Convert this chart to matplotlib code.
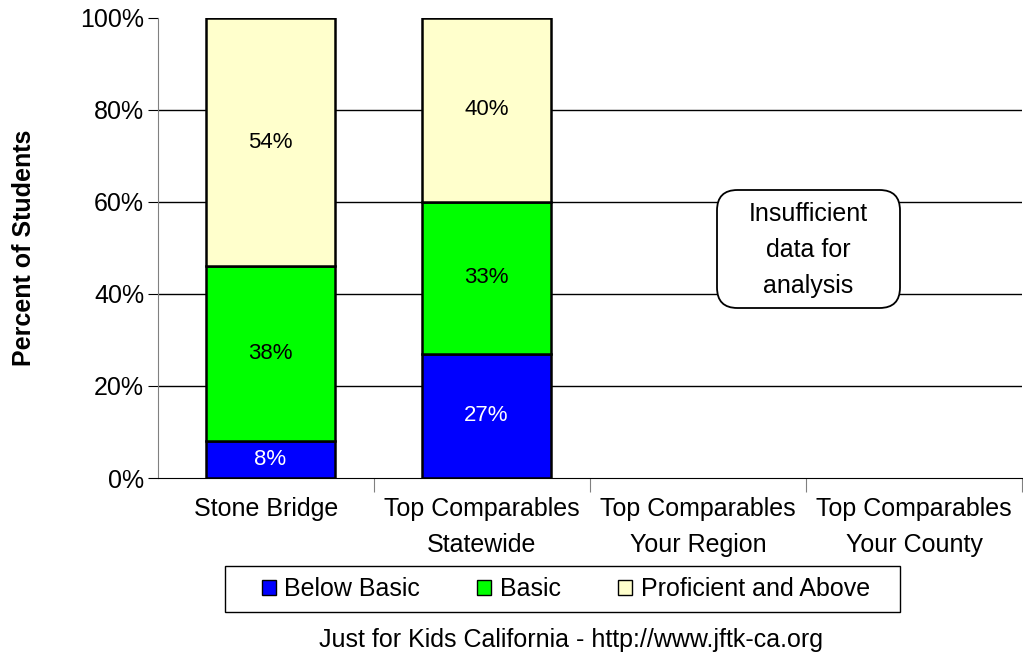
import matplotlib.pyplot as plt
from matplotlib.patches import FancyBboxPatch, Rectangle
import matplotlib.font_manager as fm

# fonts: condensed Arial look if available
names = {f.name for f in fm.fontManager.ttflist}
narrow = 'Liberation Sans Narrow' if 'Liberation Sans Narrow' in names else 'Liberation Sans'
plt.rcParams['font.family'] = ['Liberation Sans', 'DejaVu Sans']

categories = ['Stone Bridge', 'Top Comparables\nStatewide',
              'Top Comparables\nYour Region', 'Top Comparables\nYour County']
below_basic = [8, 27]
basic = [38, 33]
proficient = [54, 40]
series_names = ['Below Basic', 'Basic', 'Proficient and Above']
colors = ['#0000FF', '#00FF00', '#FFFFCC']
label_colors = ['white', 'black', 'black']

W, H = 1023, 655
fig = plt.figure(figsize=(W / 100, H / 100), dpi=100)
ax = fig.add_axes([158 / W, 1 - 478 / H, 864 / W, 460 / H])

x = list(range(len(below_basic)))
bottom = [0] * len(x)
handles = []
for vals, name, col, lc in zip([below_basic, basic, proficient], series_names, colors, label_colors):
    bars = ax.bar([i + 0.02 for i in x], vals, width=0.6, bottom=bottom, color=col,
                  edgecolor='black', linewidth=1.8, label=name, zorder=3)
    handles.append(bars)
    for i, v in enumerate(vals):
        ax.text(x[i] + 0.02, bottom[i] + v / 2, f'{v}%', ha='center', va='center',
                fontsize=16, color=lc, family=narrow, zorder=4)
    bottom = [b + v for b, v in zip(bottom, vals)]

ax.set_xlim(-0.5, 3.5)
ax.set_ylim(0, 100)
ticks = [0, 20, 40, 60, 80, 100]
ax.set_yticks(ticks)
ax.set_yticklabels([f'{t}%' for t in ticks], fontsize=18)
for y in [20, 40, 60, 80]:
    ax.axhline(y, color='black', linewidth=1, zorder=1)

# category labels between boundary ticks
ax.set_xticks([0.5, 1.5, 2.5, 3.5])
ax.set_xticklabels([])
ax.set_xticks([0, 1, 2, 3], minor=True)
ax.set_xticklabels(categories, minor=True, fontsize=18, family=narrow, linespacing=1.6)
ax.tick_params(axis='x', which='minor', length=0, pad=14)
ax.tick_params(axis='x', which='major', length=10, color='#808080')
ax.tick_params(axis='y', length=7, color='black', pad=3)

for s in ['top', 'right']:
    ax.spines[s].set_visible(False)
ax.spines['left'].set_color('#808080')
ax.spines['bottom'].set_color('black')
ax.spines['bottom'].set_zorder(5)

ax.set_ylabel('Percent of Students', fontsize=18, fontweight='bold', labelpad=32)

# insufficient data note
fig.patches.append(FancyBboxPatch((717 / W, 1 - 308 / H), 183 / W, 118 / H,
                                  boxstyle='round,pad=0,rounding_size=0.02',
                                  transform=fig.transFigure, facecolor='white',
                                  edgecolor='black', linewidth=1.3, zorder=6,
                                  mutation_aspect=W / H))
fig.text(808 / W, 1 - 250 / H, 'Insufficient\ndata for\nanalysis', ha='center',
         va='center', fontsize=18, linespacing=1.65, zorder=7)

# legend frame drawn separately, legend content inside
fig.patches.append(Rectangle((225 / W, 1 - 612 / H), 675 / W, 46 / H,
                             transform=fig.transFigure, facecolor='white',
                             edgecolor='black', linewidth=1.0))
leg = fig.legend(handles=handles, loc='center', bbox_to_anchor=(566 / W, 1 - 589 / H),
                 ncol=3, frameon=False, fontsize=18,
                 handlelength=0.56, handleheight=0.56, handletextpad=0.36,
                 columnspacing=2.28, borderpad=0.2)
for h in leg.legend_handles:
    h.set_linewidth(1.0)

fig.text(571 / W, 1 - 640 / H, 'Just for Kids California - http://www.jftk-ca.org',
         ha='center', va='center', fontsize=18, family=narrow)

fig.savefig('out.png', dpi=100)
